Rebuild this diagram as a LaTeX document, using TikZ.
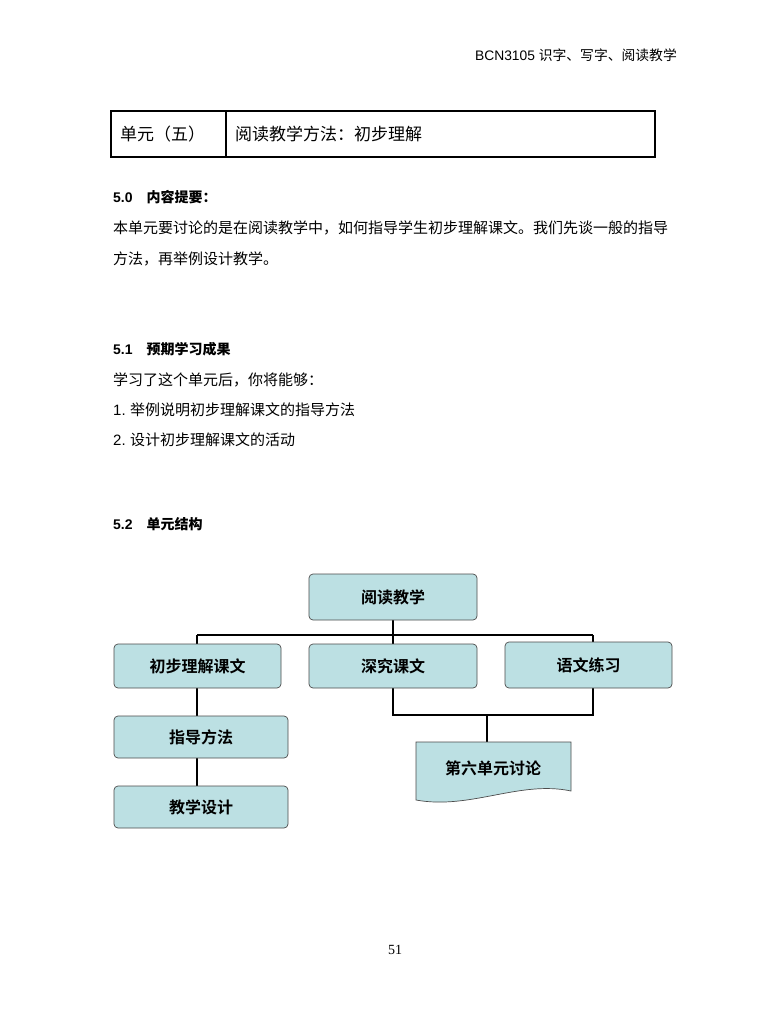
\documentclass[tikz,border=0pt]{standalone}
\usepackage{fontspec}
\setmainfont{Liberation Sans}
\newfontfamily\cjk{Noto Sans CJK SC}
\newfontfamily\cjkb{Noto Sans CJK SC Bold}
\newfontfamily\serifnum{Liberation Serif}
\definecolor{boxc}{HTML}{BCE0E3}
\begin{document}
\begin{tikzpicture}[x=1pt,y=-1pt,
  bx/.style={draw=black!70,fill=boxc,rounded corners=4pt,line width=0.7pt,font=\cjkb\fontsize{16}{16}\selectfont,inner sep=0pt},
  ln/.style={line width=1.6pt},
  tx/.style={anchor=west,inner sep=0pt,font=\cjk\fontsize{15}{15}\selectfont}]
\useasboundingbox (0,0) rectangle (768,1024);
\fill[white] (0,0) rectangle (768,1024);
\node[anchor=east,inner sep=0pt,font=\fontsize{13.8}{14}\selectfont] (hdr) at (677,55) {BCN3105 {\cjk 识字、写字、阅读教学}};
\draw[line width=1.5pt] (111,111) rectangle (655,157);
\draw[line width=1.5pt] (226,111) -- (226,157);
\node[tx,font=\cjk\fontsize{17}{17}\selectfont] (u) at (120,134) {单元（五）};
\node[tx,font=\cjk\fontsize{17}{17}\selectfont] (t) at (235,134) {阅读教学方法：初步理解};
\node[tx,font=\bfseries\fontsize{14}{14}\selectfont] (s0) at (113,197) {5.0\quad{\cjkb 内容提要：}};
\node[tx] (p1) at (113,228) {本单元要讨论的是在阅读教学中，如何指导学生初步理解课文。我们先谈一般的指导};
\node[tx] (p2) at (113,259) {方法，再举例设计教学。};
\node[tx,font=\bfseries\fontsize{14}{14}\selectfont] (s1) at (113,349) {5.1\quad{\cjkb 预期学习成果}};
\node[tx] (p3) at (113,380) {学习了这个单元后，你将能够：};
\node[tx] (p4) at (113,410) {{\rmfamily 1.} 举例说明初步理解课文的指导方法};
\node[tx] (p5) at (113,440) {{\rmfamily 2.} 设计初步理解课文的活动};
\node[tx,font=\bfseries\fontsize{14}{14}\selectfont] (s2) at (113,524) {5.2\quad{\cjkb 单元结构}};
% lines
\coordinate (j0) at (393,635);
\coordinate (jl) at (197,635);
\coordinate (jr) at (593,635);
\coordinate (bl) at (393,715);
\coordinate (br) at (593,715);
\coordinate (bm) at (487,715);
\draw[ln] (393,620) -- (j0);
\draw[ln] (jl) -- (jr);
\draw[ln] (jl) -- (197,644);
\draw[ln] (j0) -- (393,644);
\draw[ln] (jr) -- (593,642);
\draw[ln] (197,688) -- (197,786);
\draw[ln] (393,688) -- (bl) -- (br) -- (593,688);
\draw[ln] (bm) -- (487,742);
% boxes
\node[bx,minimum width=168pt,minimum height=46pt] (a) at (393,597) {阅读教学};
\node[bx,minimum width=167pt,minimum height=44pt] (b) at (197.5,666) {初步理解课文};
\node[bx,minimum width=168pt,minimum height=44pt] (c) at (393,666) {深究课文};
\node[bx,minimum width=167pt,minimum height=46pt] (d) at (588.5,665) {语文练习};
\node[bx,minimum width=174pt,minimum height=42pt] (e) at (201,737) {指导方法};
\node[bx,minimum width=174pt,minimum height=42pt] (f) at (201,807) {教学设计};
\fill[boxc] (416,742) -- (571,742) -- (571,791) .. controls (520,780) and (470,810) .. (416,800) -- cycle;
\draw[black!70,line width=0.7pt] (416,742) -- (571,742) -- (571,791) .. controls (520,780) and (470,810) .. (416,800) -- cycle;
\node[font=\cjkb\fontsize{16}{16}\selectfont,inner sep=0pt] (g) at (493,768) {第六单元讨论};
\node[font=\serifnum\fontsize{14}{14}\selectfont,inner sep=0pt] (pg) at (395,950) {51};
\end{tikzpicture}
\end{document}
